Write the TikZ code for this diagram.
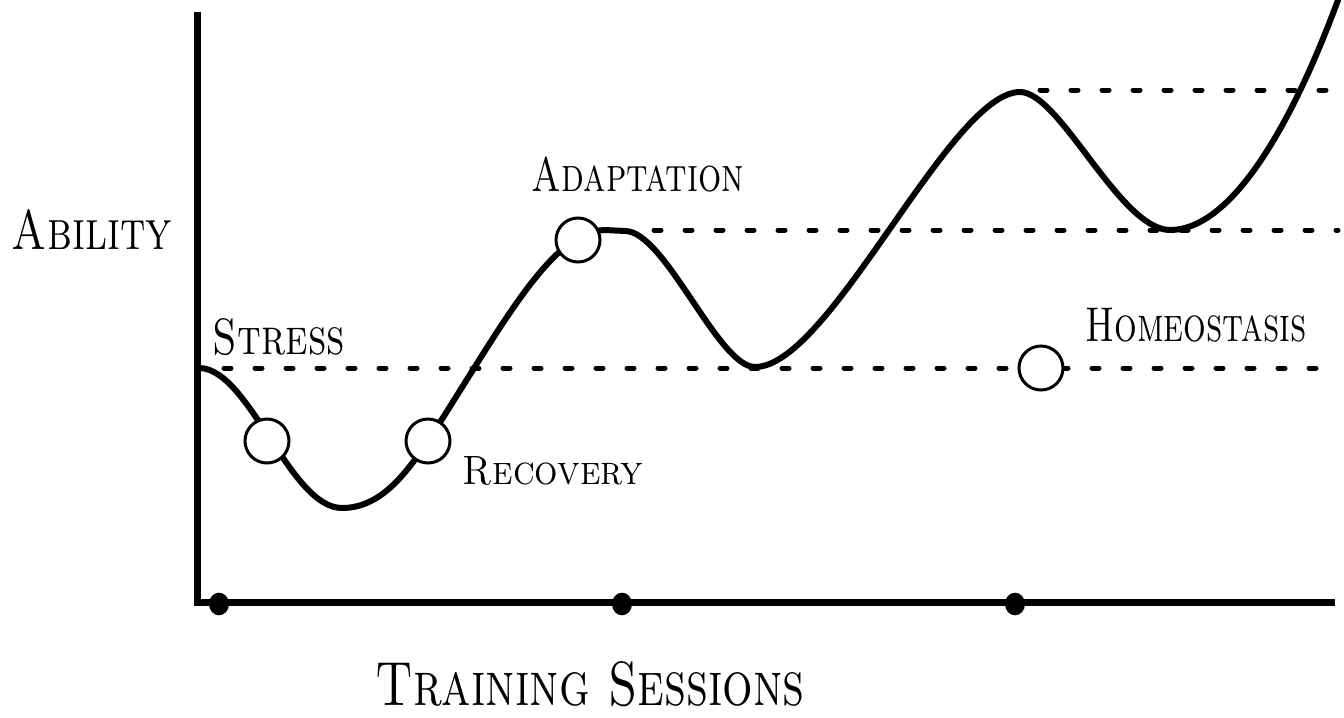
\documentclass[tikz,border=0pt]{standalone}
\usepackage{graphicx}
\usetikzlibrary{shapes.geometric}
\begin{document}
\begin{tikzpicture}[x=0.75pt,y=-0.75pt,
  curve/.style={line width=4.5pt, line cap=round, line join=round},
  axis/.style={line width=5.25pt},
  guide/.style={line width=3.75pt, line cap=round, dash pattern=on 5.25pt off 18pt},
  marker/.style={circle, draw, fill=white, line width=2.25pt, minimum size=33pt, inner sep=0pt},
  tickdot/.style={ellipse, fill=black, minimum width=15pt, minimum height=17pt, inner sep=0pt},
  lbl/.style={inner sep=0pt, anchor=center}]
\useasboundingbox (0,0) rectangle (1344,717);

% axes
\coordinate (ytop) at (197,12);
\coordinate (ybot) at (197,606);
\coordinate (xstart) at (194,602);
\coordinate (xend) at (1335,602);
\draw[axis] (ytop) -- (ybot);
\draw[axis] (xstart) -- (xend);
\node[tickdot] (t1) at (219,604) {};
\node[tickdot] (t2) at (622,604) {};
\node[tickdot] (t3) at (1015,604) {};

% guide lines
\coordinate (g1a) at (224,368);
\coordinate (g1b) at (1338,368);
\coordinate (g2a) at (654,230);
\coordinate (g2b) at (1338,230);
\coordinate (g3a) at (1040,90);
\coordinate (g3b) at (1338,90);
\draw[guide] (g1a) -- (g1b);
\draw[guide] (g2a) -- (g2b);
\draw[guide] (g3a) -- (g3b);

% curve
\coordinate (s0) at (200,368);
\coordinate (s1) at (1338,0);
\draw[curve] (s0) .. controls (250,370) and (290,508) .. (342,508)
  .. controls (380,508) and (405,475) .. (428,441)
  .. controls (500,330) and (550,231) .. (605,230) -- (625,231)
  .. controls (665,231) and (718,367) .. (755,367)
  .. controls (830,367) and (950,92) .. (1020,92)
  .. controls (1060,92) and (1120,230) .. (1170,230)
  .. controls (1230,230) and (1290,130) .. (s1);

% markers
\node[marker] (stressdot) at (267,441) {};
\node[marker] (recoverydot) at (428,441) {};
\node[marker] (adaptdot) at (578,240) {};
\node[marker] (homeodot) at (1041,368) {};

% labels
\node[lbl] (ability) at (92,229) {\resizebox{120pt}{30pt}{\textsc{Ability}}};
\node[lbl] (stress) at (279,337) {\resizebox{99pt}{27pt}{\textsc{Stress}}};
\node[lbl] (adapt) at (638,174) {\resizebox{159pt}{26pt}{\textsc{Adaptation}}};
\node[lbl] (recovery) at (553,471) {\resizebox{135pt}{21pt}{\textsc{Recovery}}};
\node[lbl] (homeo) at (1196,325) {\resizebox{166pt}{25pt}{\textsc{Homeostasis}}};
\node[lbl] (training) at (590,684) {\resizebox{322pt}{33pt}{\textsc{Training Sessions}}};
\end{tikzpicture}
\end{document}
